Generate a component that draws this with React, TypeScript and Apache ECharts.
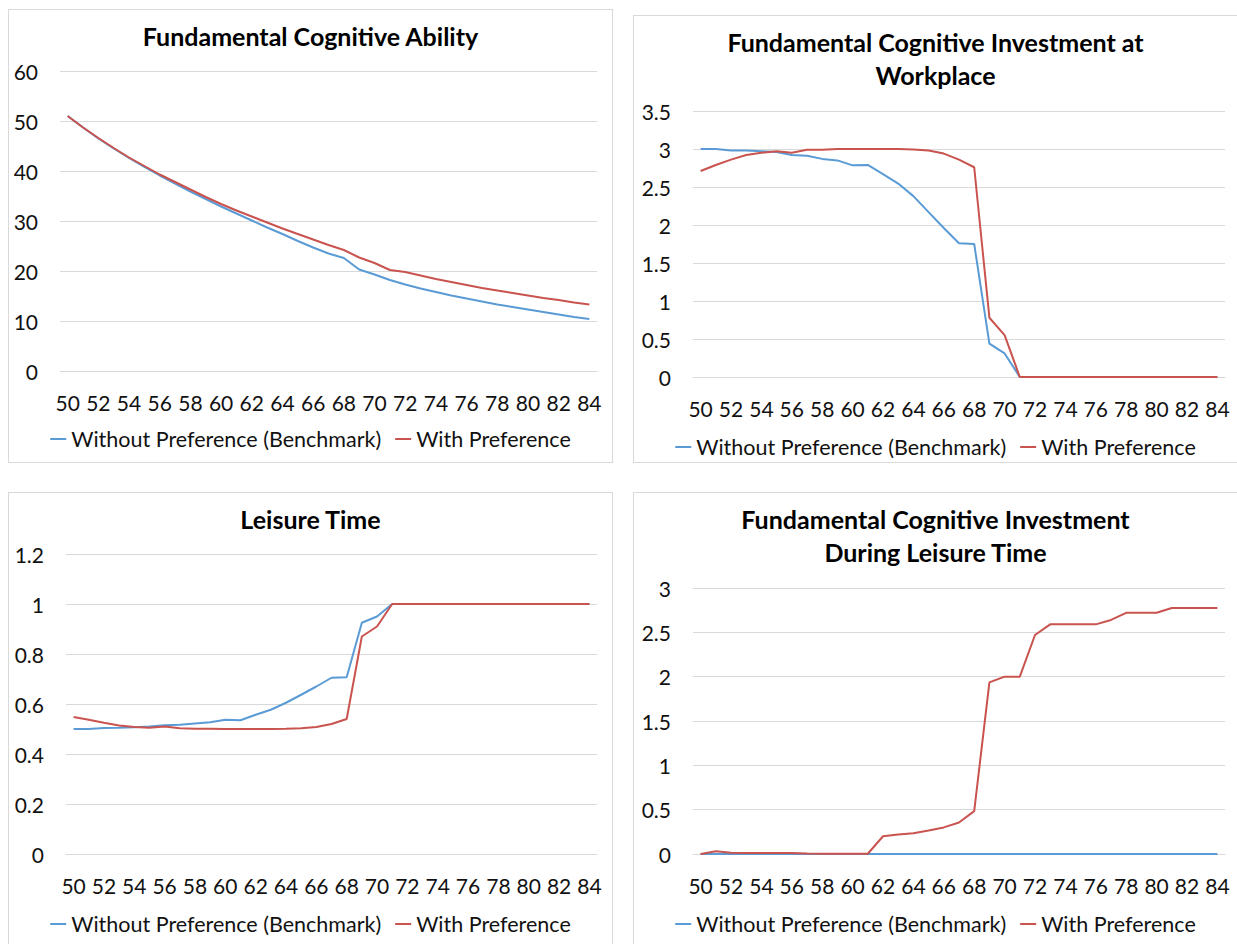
import { useEffect, useRef } from "react";
import * as echarts from "echarts";

// Age on the horizontal axis
const ages = [
  "50", "51", "52", "53", "54", "55", "56", "57", "58", "59",
  "60", "61", "62", "63", "64", "65", "66", "67", "68", "69",
  "70", "71", "72", "73", "74", "75", "76", "77", "78", "79",
  "80", "81", "82", "83", "84",
];

const seriesNames = ["Without Preference (Benchmark)", "With Preference"];

// Fundamental cognitive ability
const abilityWithout = [
  51.0, 48.7, 46.5, 44.5, 42.6, 40.8, 39.1, 37.5, 35.9, 34.4,
  32.9, 31.5, 30.1, 28.7, 27.4, 26.0, 24.7, 23.5, 22.6, 20.3,
  19.3, 18.2, 17.3, 16.5, 15.8, 15.1, 14.5, 13.9, 13.3, 12.8,
  12.3, 11.8, 11.3, 10.8, 10.4,
];
const abilityWith = [
  51.0, 48.7, 46.6, 44.6, 42.7, 41.0, 39.3, 37.8, 36.3, 34.8,
  33.4, 32.1, 30.9, 29.7, 28.5, 27.4, 26.3, 25.2, 24.2, 22.7,
  21.6, 20.2, 19.8, 19.1, 18.4, 17.8, 17.2, 16.6, 16.1, 15.6,
  15.1, 14.6, 14.2, 13.7, 13.3,
];

// Fundamental cognitive investment at the workplace
const workWithout = [
  3.0, 3.0, 2.98, 2.98, 2.97, 2.96, 2.92, 2.91, 2.87, 2.85,
  2.785, 2.79, 2.67, 2.545, 2.38, 2.17, 1.96, 1.76, 1.75, 0.44,
  0.31, 0, 0, 0, 0, 0, 0, 0, 0, 0,
  0, 0, 0, 0, 0,
];
const workWith = [
  2.71, 2.79, 2.86, 2.92, 2.95, 2.97, 2.95, 2.99, 2.99, 3.0,
  3.0, 3.0, 3.0, 3.0, 2.995, 2.98, 2.94, 2.86, 2.76, 0.78,
  0.55, 0, 0, 0, 0, 0, 0, 0, 0, 0,
  0, 0, 0, 0, 0,
];

// Share of time spent on leisure
const leisureWithout = [
  0.5, 0.5, 0.504, 0.505, 0.507, 0.51, 0.515, 0.517, 0.522, 0.527,
  0.537, 0.535, 0.557, 0.577, 0.605, 0.637, 0.67, 0.705, 0.707, 0.925,
  0.95, 1, 1, 1, 1, 1, 1, 1, 1, 1,
  1, 1, 1, 1, 1,
];
const leisureWith = [
  0.548, 0.537, 0.525, 0.514, 0.508, 0.505, 0.51, 0.503, 0.501, 0.501,
  0.5, 0.5, 0.5, 0.5, 0.501, 0.503, 0.508, 0.52, 0.54, 0.87,
  0.91, 1, 1, 1, 1, 1, 1, 1, 1, 1,
  1, 1, 1, 1, 1,
];

// Fundamental cognitive investment during leisure time
const leisureInvWithout = [
  0, 0, 0, 0, 0, 0, 0, 0, 0, 0,
  0, 0, 0, 0, 0, 0, 0, 0, 0, 0,
  0, 0, 0, 0, 0, 0, 0, 0, 0, 0,
  0, 0, 0, 0, 0,
];
const leisureInvWith = [
  0, 0.03, 0.015, 0.012, 0.01, 0.012, 0.012, 0.005, 0.004, 0.004,
  0.003, 0.003, 0.2, 0.22, 0.235, 0.265, 0.3, 0.355, 0.483, 1.935,
  2.0, 2.0, 2.47, 2.59, 2.59, 2.59, 2.59, 2.64, 2.72, 2.72,
  2.72, 2.775, 2.775, 2.775, 2.775,
];

const BLUE = "#5B9BD5";
const RED = "#C9534F";
const GRID_GRAY = "#D9D9D9";
const FONT = "Lato, 'Noto Sans', sans-serif";
const TEXT = "#111111";

type PanelConfig = {
  title: string;
  box: { left: number; top: number; width: number; height: number };
  borders: { top: boolean; right: boolean; bottom: boolean; left: boolean };
  grid: { left: number; right: number; top: number; bottom: number };
  yMax: number;
  yInterval: number;
  without: number[];
  withPref: number[];
  legendTop: number;
};

const panels: PanelConfig[] = [
  {
    title: "Fundamental Cognitive Ability",
    box: { left: 8, top: 9, width: 605, height: 454 },
    borders: { top: true, right: true, bottom: true, left: true },
    grid: { left: 51, right: 15, top: 61, bottom: 91 },
    yMax: 60,
    yInterval: 10,
    without: abilityWithout,
    withPref: abilityWith,
    legendTop: 413,
  },
  {
    title: "Fundamental Cognitive Investment at\nWorkplace",
    box: { left: 633, top: 15, width: 604, height: 448 },
    borders: { top: true, right: false, bottom: true, left: true },
    grid: { left: 59, right: 12, top: 95, bottom: 85 },
    yMax: 3.5,
    yInterval: 0.5,
    without: workWithout,
    withPref: workWith,
    legendTop: 415,
  },
  {
    title: "Leisure Time",
    box: { left: 8, top: 492, width: 605, height: 452 },
    borders: { top: true, right: true, bottom: false, left: true },
    grid: { left: 57, right: 15, top: 61, bottom: 90 },
    yMax: 1.2,
    yInterval: 0.2,
    without: leisureWithout,
    withPref: leisureWith,
    legendTop: 415,
  },
  {
    title: "Fundamental Cognitive Investment\nDuring Leisure Time",
    box: { left: 633, top: 492, width: 604, height: 452 },
    borders: { top: true, right: false, bottom: false, left: true },
    grid: { left: 59, right: 12, top: 95, bottom: 90 },
    yMax: 3,
    yInterval: 0.5,
    without: leisureInvWithout,
    withPref: leisureInvWith,
    legendTop: 415,
  },
];

function buildOption(p: PanelConfig) {
  const labelStyle = { fontFamily: FONT, fontSize: 21, color: TEXT };
  return {
    animation: false,
    title: {
      text: p.title,
      left: "center",
      top: 4,
      textStyle: {
        fontFamily: FONT,
        fontSize: 25,
        fontWeight: "bold",
        color: "#000",
        lineHeight: 33,
      },
    },
    legend: {
      data: seriesNames,
      left: "center",
      top: p.legendTop,
      icon: "rect",
      itemWidth: 16,
      itemHeight: 2,
      itemGap: 14,
      textStyle: { ...labelStyle, fontSize: 21.5 },
    },
    grid: { ...p.grid, containLabel: false },
    xAxis: {
      type: "category",
      data: ages,
      boundaryGap: true,
      axisTick: { show: false },
      axisLine: { lineStyle: { color: GRID_GRAY, width: 1 } },
      axisLabel: { ...labelStyle, interval: 1, margin: 21, hideOverlap: false },
      splitLine: { show: false },
    },
    yAxis: {
      type: "value",
      min: 0,
      max: p.yMax,
      interval: p.yInterval,
      axisLine: { show: false },
      axisTick: { show: false },
      axisLabel: { ...labelStyle, margin: 22 },
      splitLine: { lineStyle: { color: GRID_GRAY, width: 1 } },
    },
    series: [
      {
        name: seriesNames[0],
        type: "line",
        data: p.without,
        symbol: "none",
        showSymbol: false,
        lineStyle: { color: BLUE, width: 2 },
        itemStyle: { color: BLUE },
      },
      {
        name: seriesNames[1],
        type: "line",
        data: p.withPref,
        symbol: "none",
        showSymbol: false,
        lineStyle: { color: RED, width: 2 },
        itemStyle: { color: RED },
      },
    ],
  };
}

function Panel({ cfg }: { cfg: PanelConfig }) {
  const ref = useRef<HTMLDivElement>(null);
  useEffect(() => {
    if (!ref.current) return;
    const chart = echarts.init(ref.current, undefined, { renderer: "svg" });
    chart.setOption(buildOption(cfg));
    return () => chart.dispose();
  }, [cfg]);
  const line = `1px solid ${GRID_GRAY}`;
  return (
    <div
      style={{
        position: "absolute",
        left: cfg.box.left,
        top: cfg.box.top,
        width: cfg.box.width,
        height: cfg.box.height,
        boxSizing: "border-box",
        borderTop: cfg.borders.top ? line : "none",
        borderRight: cfg.borders.right ? line : "none",
        borderBottom: cfg.borders.bottom ? line : "none",
        borderLeft: cfg.borders.left ? line : "none",
        background: "#fff",
      }}
    >
      <div ref={ref} style={{ position: "absolute", left: 0, top: 0, width: "100%", height: "100%" }} />
    </div>
  );
}

export default function App() {
  return (
    <div
      style={{
        position: "fixed",
        left: 0,
        top: 0,
        width: 1237,
        height: 944,
        overflow: "hidden",
        background: "#fff",
      }}
    >
      {panels.map((p, i) => (
        <Panel key={i} cfg={p} />
      ))}
    </div>
  );
}
